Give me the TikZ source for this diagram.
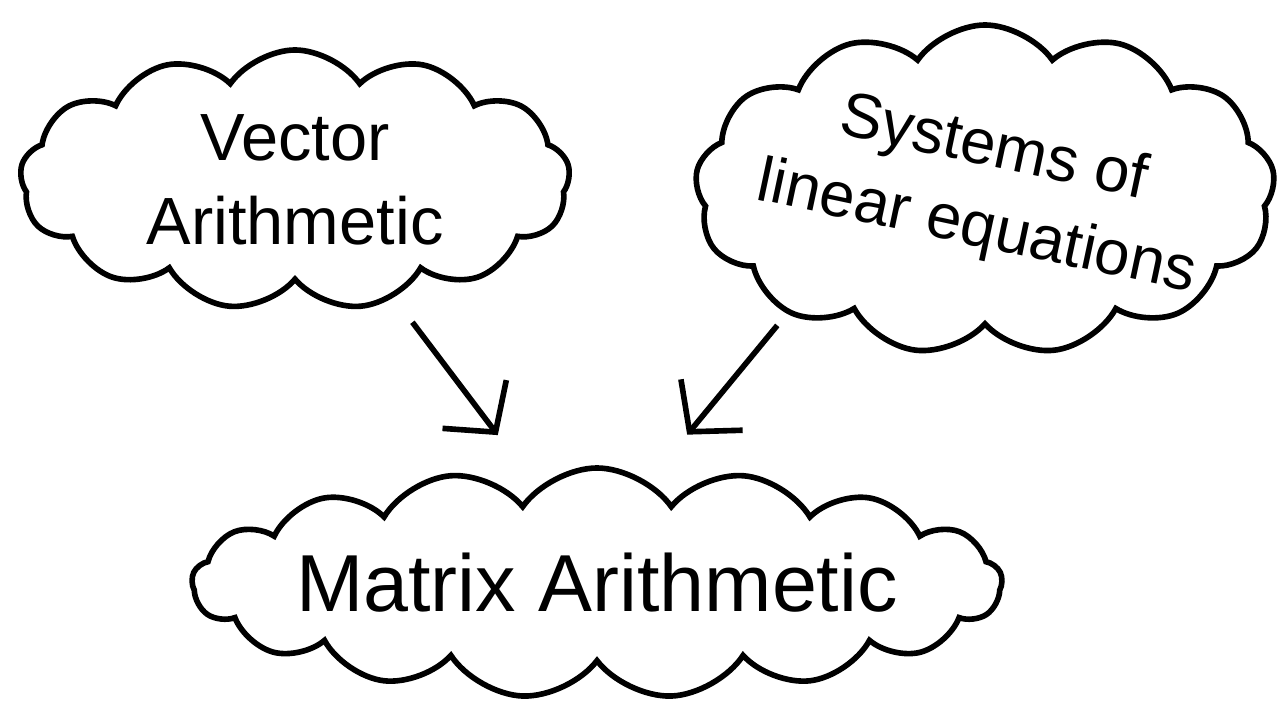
\documentclass[tikz,border=0pt]{standalone}
\usepackage{fontspec}
\setmainfont{Liberation Sans}
\usetikzlibrary{arrows.meta,positioning,shapes.symbols}

\begin{document}
\begin{tikzpicture}[
    >=Latex,
    every node/.style={align=center},
    idea_cloud/.style={draw=black, line width=1.6pt, cloud, cloud ignores aspect, cloud puffs=13, cloud puff arc=110, inner sep=0pt},
    idea_text/.style={font=\fontsize{19}{24}\selectfont},
    link_flow/.style={-{Straight Barb[length=3.5mm, width=8mm]}, line width=1.6pt, black}
]
  \useasboundingbox (0,0) rectangle (12.82,7.17);

  % Idea clouds
  \node[idea_cloud, minimum width=5.5cm, minimum height=2.6cm] (vec_cloud) at (2.95,5.37) {};
  \node[idea_text] (vec_text) at (vec_cloud.center) {Vector\\Arithmetic};
  \node[idea_cloud, minimum width=5.8cm, minimum height=3.3cm] (sys_cloud) at (9.85,5.27) {};
  \node[idea_text, rotate=-12, font=\fontsize{18}{23}\selectfont] (sys_text) at (sys_cloud.center) {Systems of\\linear equations};
  \node[idea_cloud, cloud puffs=17, minimum width=8.1cm, minimum height=2.3cm] (mat_cloud) at (5.97,1.34) {};
  \node[idea_text, font=\fontsize{23}{28}\selectfont] (mat_text) at (mat_cloud.center) {Matrix Arithmetic};

  % Connecting Flows
  \draw[link_flow, shorten <=0.3cm, shorten >=0.65cm] (vec_cloud.-50) -- (mat_cloud.122);
  \draw[link_flow, shorten <=0.15cm, shorten >=0.6cm] (sys_cloud.212) -- (mat_cloud.63);

\end{tikzpicture}
\end{document}
